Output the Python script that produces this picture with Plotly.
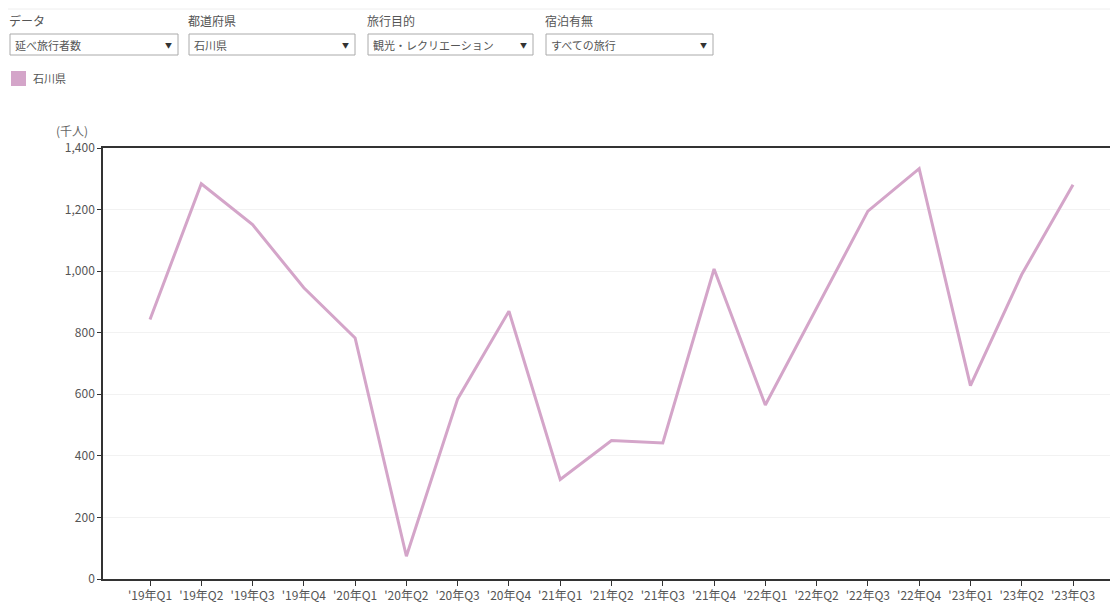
import plotly.graph_objects as go

categories = ["'19年Q1", "'19年Q2", "'19年Q3", "'19年Q4",
              "'20年Q1", "'20年Q2", "'20年Q3", "'20年Q4",
              "'21年Q1", "'21年Q2", "'21年Q3", "'21年Q4",
              "'22年Q1", "'22年Q2", "'22年Q3", "'22年Q4",
              "'23年Q1", "'23年Q2", "'23年Q3"]
values = [843, 1284, 1151, 946, 783, 74, 585, 870, 323, 450, 442,
          1007, 565, 878, 1195, 1333, 628, 989, 1281]
series_name = "石川県"
y_ticks = [0, 200, 400, 600, 800, 1000, 1200, 1400]
filter_labels = ["データ", "都道府県", "旅行目的", "宿泊有無"]
filter_values = ["延べ旅行者数", "石川県", "観光・レクリエーション", "すべての旅行"]

# page has an 8px body margin: work in window pixels, shift by OFF
OFF = 8
WIN_W, WIN_H = 1118, 603
W, H = WIN_W - OFF, WIN_H - OFF
# plot area in window pixels
PL, PR, PT, PB = 103, 1118, 148, 579
L, T = PL - OFF, PT - OFF
R = WIN_W - PR
B = WIN_H - PB
PW, PH = W - L - R, H - T - B
FONT = "Noto Sans CJK JP, Noto Sans, sans-serif"
LINE_COLOR = "#D4A5C9"
TXT = "#555555"


def px(x):
    return (x - PL) / PW


def py(y):
    return (PB - y) / PH


fig = go.Figure()
fig.add_trace(go.Scatter(
    x=list(range(len(categories))), y=values, mode="lines", name=series_name,
    line=dict(color=LINE_COLOR, width=3), showlegend=False,
))

shapes = []
annotations = []

shapes.append(dict(type="line", xref="paper", yref="paper", x0=px(OFF), x1=px(WIN_W),
                   y0=py(9), y1=py(9), line=dict(color="#eeeeee", width=1)))

box_x = [(10, 178), (189, 355), (368, 533), (546, 713)]
for (x0, x1), lab, val in zip(box_x, filter_labels, filter_values):
    annotations.append(dict(text=lab, xref="paper", yref="paper", x=px(x0 - 3), y=py(21),
                            xanchor="left", yanchor="middle", showarrow=False,
                            font=dict(family=FONT, size=12, color=TXT)))
    shapes.append(dict(type="rect", xref="paper", yref="paper", x0=px(x0), x1=px(x1),
                       y0=py(55), y1=py(34), line=dict(color="#aaaaaa", width=1),
                       fillcolor="white"))
    annotations.append(dict(text=val, xref="paper", yref="paper", x=px(x0 + 3), y=py(45),
                            xanchor="left", yanchor="middle", showarrow=False,
                            font=dict(family=FONT, size=11, color=TXT)))
    annotations.append(dict(text="▼", xref="paper", yref="paper", x=px(x1 - 10), y=py(45),
                            xanchor="center", yanchor="middle", showarrow=False,
                            font=dict(family=FONT, size=7, color="#333333")))

shapes.append(dict(type="rect", xref="paper", yref="paper", x0=px(11), x1=px(26),
                   y0=py(86), y1=py(71), line=dict(width=0), fillcolor=LINE_COLOR))
annotations.append(dict(text=series_name, xref="paper", yref="paper", x=px(31), y=py(78),
                        xanchor="left", yanchor="middle", showarrow=False,
                        font=dict(family=FONT, size=11, color=TXT)))

annotations.append(dict(text="(千人)", xref="paper", yref="paper", x=px(72), y=py(130),
                        xanchor="center", yanchor="middle", showarrow=False,
                        font=dict(family=FONT, size=12, color="#666666")))

fig.update_layout(
    width=W, height=H,
    margin=dict(l=L, r=R, t=T, b=B, pad=0),
    paper_bgcolor="white", plot_bgcolor="white",
    font=dict(family=FONT, size=12, color=TXT),
    shapes=shapes, annotations=annotations,
)
spacing = (1073 - 150) / 18
fig.update_xaxes(
    tickmode="array", tickvals=list(range(len(categories))), ticktext=categories,
    range=[-(150 - PL) / spacing, (PR - 150) / spacing],
    showline=True, linecolor="#333333", linewidth=1.5, mirror=True,
    ticks="outside", ticklen=5, tickcolor="#333333", showgrid=False,
    tickfont=dict(family=FONT, size=12, color=TXT), zeroline=False,
)
fig.update_yaxes(
    range=[0, 1400], tickvals=y_ticks, tickformat=",",
    showline=True, linecolor="#333333", linewidth=1.5,
    ticks="outside", ticklen=4, tickcolor="#333333",
    showgrid=True, gridcolor="#f2f2f2", gridwidth=1, zeroline=False,
    tickfont=dict(family=FONT, size=12, color=TXT),
)

fig.write_html("out.html")
